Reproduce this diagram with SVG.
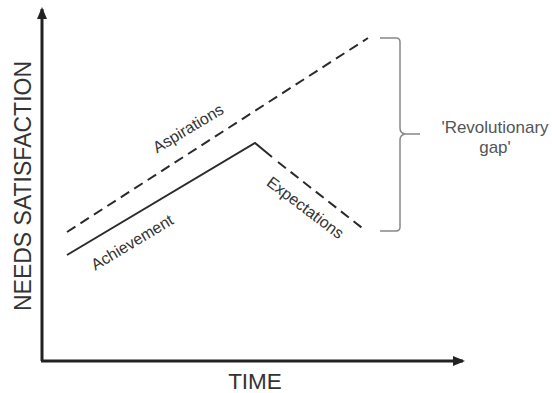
<svg xmlns="http://www.w3.org/2000/svg" width="552" height="393" viewBox="0 0 552 393">
<style>
.axis{stroke:#222;stroke-width:3;fill:none}
.line{stroke:#2a2a2a;stroke-width:2;fill:none}
.dash{stroke-dasharray:10 6}
.lbl{font-family:"Liberation Sans",Arial,sans-serif;fill:#333}
.brace{stroke:#888;stroke-width:1.5;fill:none}
</style>
<defs>
<marker id="ah" markerWidth="12" markerHeight="10" refX="10" refY="5" orient="auto" markerUnits="userSpaceOnUse">
<path d="M0,0 L12,5 L0,10 Z" fill="#222"/>
</marker>
</defs>
<rect width="552" height="393" fill="#fff"/>
<g id="connectors">
<path class="axis" d="M42,361 L42,9" marker-end="url(#ah)"/>
<path class="axis" d="M41,361 L463,361" marker-end="url(#ah)"/>
<path class="line dash" d="M67,232 L368,38"/>
<path class="line" d="M67,255 L255,143 L272,157"/>
<path class="line dash" d="M278,162 L366,231"/>
<path class="brace" d="M380,38 L396,38 Q400,38 400,42 L400,128 Q400,133 405,134 L420,134 M405,134 Q400,135 400,140 L400,227 Q400,231 396,231 L380,231"/>
</g>
<g id="y-label"><text class="lbl" font-size="23" text-anchor="middle" transform="translate(31,186) rotate(-90)">NEEDS SATISFACTION</text></g>
<g id="x-label"><text class="lbl" font-size="22.5" text-anchor="middle" x="255" y="389">TIME</text></g>
<g id="aspirations"><text class="lbl" font-size="16" text-anchor="middle" transform="translate(191,133) rotate(-31)">Aspirations</text></g>
<g id="achievement"><text class="lbl" font-size="16" text-anchor="middle" transform="translate(135,247) rotate(-31)">Achievement</text></g>
<g id="expectations"><text class="lbl" font-size="16" text-anchor="middle" transform="translate(302,212) rotate(37)">Expectations</text></g>
<g id="gap"><text class="lbl" font-size="17" text-anchor="middle" style="fill:#555"><tspan x="495" y="133">'Revolutionary</tspan><tspan x="495" y="153">gap'</tspan></text></g>
</svg>
